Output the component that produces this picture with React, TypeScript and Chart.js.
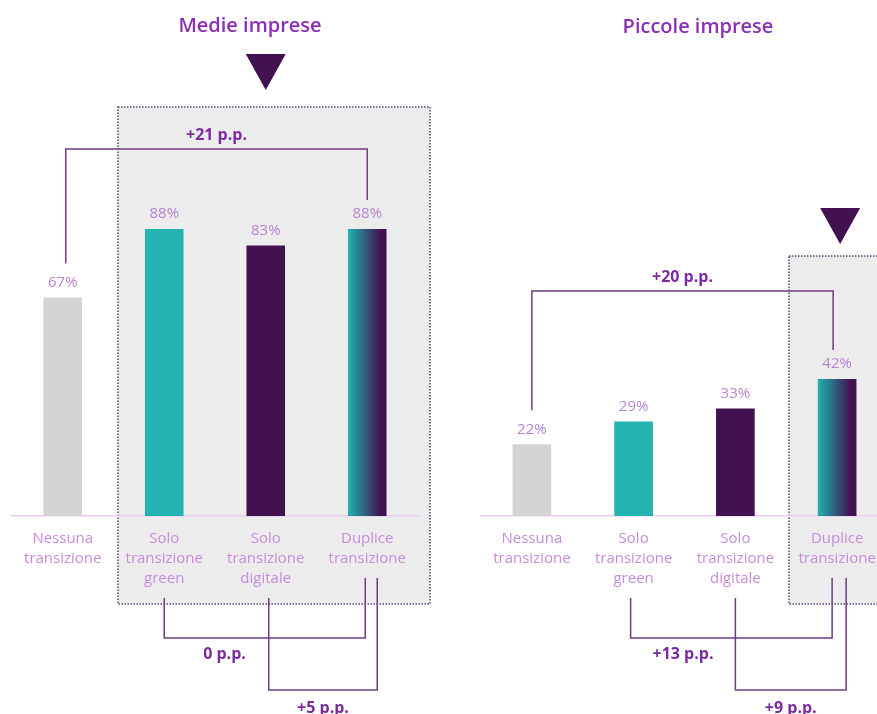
import { useEffect, useRef } from "react";
import { Chart, registerables } from "chart.js";

Chart.register(...registerables);

// Transition groups on the x-axis (one entry per label line)
const categories: string[][] = [
  ["Nessuna", "transizione"],
  ["Solo", "transizione", "green"],
  ["Solo", "transizione", "digitale"],
  ["Duplice", "transizione"],
];

// Share of firms (%) in each group
const medieValues = [67, 88, 83, 88];
const piccoleValues = [22, 29, 33, 42];

const panelTitles = ["Medie imprese", "Piccole imprese"];

const GREY = "#d4d4d4";
const TEAL = "#23b3b0";
const PLUM = "#41124f";
const BAR_FRACTION = 0.38;
const FONT = "'Open Sans', sans-serif";

type PanelLayout = {
  padLeft: number;
  padRight: number;
  titleX: number;
  titleY: number;
  box: [number, number, number, number];
  markerIndex: number;
  markerShift: number;
  markerTop: number;
  topY: number;
  topOffsets: [number, number];
  lowOffsets: [[number, number], [number, number]];
  lowLabelShift: number;
};

const medieLayout: PanelLayout = {
  padLeft: 12,
  padRight: 482,
  titleX: 250,
  titleY: 26,
  box: [118, 107, 430, 604],
  markerIndex: 2,
  markerShift: 0,
  markerTop: 54,
  topY: 149,
  topOffsets: [3, 0],
  lowOffsets: [[0, -2], [3, 10]],
  lowLabelShift: 8,
};

const piccoleLayout: PanelLayout = {
  padLeft: 481,
  padRight: 12,
  titleX: 698,
  titleY: 27,
  box: [789, 256, 910, 604],
  markerIndex: 3,
  markerShift: 3,
  markerTop: 208,
  topY: 291,
  topOffsets: [0, -4],
  lowOffsets: [[-3, -5], [0, 9]],
  lowLabelShift: 0,
};

const fmtGap = (d: number) => (d > 0 ? "+" : "") + d + " p.p.";

function barFill(ctx: any) {
  const i = ctx.dataIndex;
  if (i === 0) return GREY;
  if (i === 1) return TEAL;
  if (i === 2) return PLUM;
  const chart = ctx.chart;
  const xs = chart.scales && chart.scales.x;
  if (!xs || !chart.chartArea) return TEAL;
  const cx = xs.getPixelForValue(3);
  const half = ((xs.width / categories.length) * BAR_FRACTION) / 2;
  const g = chart.ctx.createLinearGradient(cx - half, 0, cx + half, 0);
  g.addColorStop(0, TEAL);
  g.addColorStop(0.1, "#229fa3");
  g.addColorStop(0.85, PLUM);
  g.addColorStop(1, PLUM);
  return g;
}

function makeChart(canvas: HTMLCanvasElement, values: number[], title: string, L: PanelLayout) {
  const gaps = values.slice(0, 3).map((v) => values[3] - v);

  const decor = {
    id: "panelDecor",
    beforeDraw(chart: any) {
      const c: CanvasRenderingContext2D = chart.ctx;
      c.save();
      const [x1, y1, x2, y2] = L.box;
      c.fillStyle = "#ececec";
      c.fillRect(x1, y1, x2 - x1, y2 - y1);
      c.strokeStyle = "#5a4670";
      c.lineWidth = 1.5;
      c.setLineDash([1.5, 1.5]);
      c.strokeRect(x1, y1, x2 - x1, y2 - y1);
      c.setLineDash([]);

      c.fillStyle = "#8b2fb6";
      c.font = `600 20px ${FONT}`;
      c.textAlign = "center";
      c.textBaseline = "middle";
      c.fillText(title, L.titleX, L.titleY);

      const mx = chart.scales.x.getPixelForValue(L.markerIndex) + L.markerShift;
      c.fillStyle = PLUM;
      c.beginPath();
      c.moveTo(mx - 20, L.markerTop);
      c.lineTo(mx + 20, L.markerTop);
      c.lineTo(mx, L.markerTop + 36);
      c.closePath();
      c.fill();
      c.restore();
    },
    afterDraw(chart: any) {
      const c: CanvasRenderingContext2D = chart.ctx;
      const bars = chart.getDatasetMeta(0).data;
      const axisY = chart.chartArea.bottom;
      c.save();
      c.textAlign = "center";
      c.textBaseline = "middle";

      // value labels above the bars
      c.font = `15px ${FONT}`;
      c.fillStyle = "#b983d2";
      const labelY = (i: number) => bars[i].y - 15;
      bars.forEach((b: any, i: number) => c.fillText(values[i] + "%", b.x, labelY(i)));

      // comparison brackets
      c.strokeStyle = "#6d3c84";
      c.lineWidth = 1.5;
      const ax = bars[0].x + L.topOffsets[0];
      const bx = bars[3].x + L.topOffsets[1];
      c.beginPath();
      c.moveTo(ax, labelY(0) - 19);
      c.lineTo(ax, L.topY);
      c.lineTo(bx, L.topY);
      c.lineTo(bx, labelY(3) - 14);
      c.stroke();

      const startY = (i: number) => axisY + 12 + categories[i].length * 20 + 10;
      const lowY = [axisY + 122, axisY + 174];
      const lowX: number[][] = [];
      [1, 2].forEach((idx, k) => {
        const lx = bars[idx].x + L.lowOffsets[k][0];
        const rx = bars[3].x + L.lowOffsets[k][1];
        lowX.push([lx, rx]);
        c.beginPath();
        c.moveTo(lx, startY(idx));
        c.lineTo(lx, lowY[k]);
        c.lineTo(rx, lowY[k]);
        c.lineTo(rx, startY(3));
        c.stroke();
      });

      c.fillStyle = "#7b2aa0";
      c.font = `700 16px ${FONT}`;
      c.fillText(fmtGap(gaps[0]), (ax + bx) / 2, L.topY - 14);
      c.fillText(fmtGap(gaps[1]), (lowX[0][0] + lowX[1][0]) / 2 + L.lowLabelShift, lowY[0] + 16);
      c.fillText(fmtGap(gaps[2]), (lowX[1][0] + lowX[1][1]) / 2, lowY[1] + 18);
      c.restore();
    },
  };

  return new Chart(canvas, {
    type: "bar",
    data: {
      labels: categories,
      datasets: [
        {
          data: values,
          backgroundColor: barFill,
          borderWidth: 0,
          categoryPercentage: 1,
          barPercentage: BAR_FRACTION,
        },
      ],
    },
    options: {
      responsive: false,
      animation: false,
      events: [],
      layout: { padding: { left: L.padLeft, right: L.padRight, top: 190, bottom: 98 } },
      plugins: { legend: { display: false }, tooltip: { enabled: false } },
      scales: {
        x: {
          grid: { display: false },
          border: { display: true, color: "#eccbf3", width: 1.5 },
          ticks: {
            color: "#c78ddb",
            font: { family: FONT, size: 15, lineHeight: 1.33 },
            padding: 5,
            maxRotation: 0,
            autoSkip: false,
          },
          afterFit: (s: any) => {
            s.height = 100;
          },
        },
        y: { display: false, min: 0, max: 100 },
      },
    },
    plugins: [decor],
  } as any);
}

export default function App() {
  const leftRef = useRef<HTMLCanvasElement>(null);
  const rightRef = useRef<HTMLCanvasElement>(null);

  useEffect(() => {
    document.body.style.margin = "0";
    document.body.style.background = "#ffffff";
    const charts: Chart[] = [];
    if (leftRef.current) charts.push(makeChart(leftRef.current, medieValues, panelTitles[0], medieLayout));
    if (rightRef.current) charts.push(makeChart(rightRef.current, piccoleValues, panelTitles[1], piccoleLayout));
    return () => charts.forEach((ch) => ch.destroy());
  }, []);

  const canvasStyle: React.CSSProperties = { position: "absolute", left: 0, top: 0 };
  return (
    <div style={{ position: "relative", width: 877, height: 714, overflow: "hidden", background: "#fff" }}>
      <canvas ref={leftRef} width={900} height={714} style={canvasStyle} />
      <canvas ref={rightRef} width={900} height={714} style={canvasStyle} />
    </div>
  );
}
